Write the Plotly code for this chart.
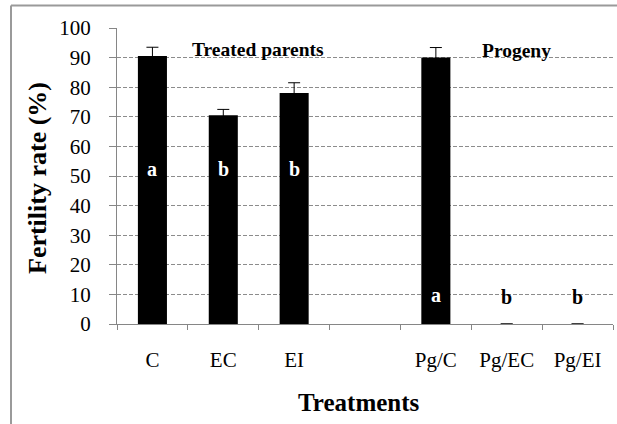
import plotly.graph_objects as go

categories = ["C", "EC", "EI", " ", "Pg/C", "Pg/EC", "Pg/EI"]
fertility = [90.5, 70.5, 78.0, None, 90.0, 0, 0]
errors = [3.0, 2.0, 3.5, 0, 3.4, 0, 0]
letters = ["a", "b", "b", "", "a", "b", "b"]
letter_y = [52.5, 52.5, 52.5, None, 9.7, 9.2, 9.0]
letter_colors = ["white", "white", "white", "white", "white", "black", "black"]
y_ticks = list(range(0, 101, 10))

W, H = 617, 424
ML, MR, MT, MB = 117, 4, 28, 100
FONT = "Liberation Serif"

fig = go.Figure()
fig.add_trace(go.Bar(
    x=categories, y=fertility,
    marker=dict(color="black", line=dict(width=0)),
    error_y=dict(type="data", array=errors, visible=True, color="black",
                 thickness=1, width=6),
    showlegend=False,
))

annotations = []
for c, t, yv, col in zip(categories, letters, letter_y, letter_colors):
    if t:
        annotations.append(dict(x=c, y=yv, xref="x", yref="y", text=t,
                                showarrow=False, yanchor="middle",
                                font=dict(family=FONT, size=20, color=col, weight="bold")))

annotations.append(dict(x=1.49, y=92.6, xref="x", yref="y", text="Treated parents",
                        showarrow=False, yanchor="middle",
                        font=dict(family=FONT, size=19.5, color="black", weight="bold")))
annotations.append(dict(x=5.14, y=92.3, xref="x", yref="y", text="Progeny",
                        showarrow=False, yanchor="middle",
                        font=dict(family=FONT, size=19.5, color="black", weight="bold")))

pw = W - ML - MR
ph = H - MT - MB
annotations.append(dict(x=(359 - ML) / pw, y=(H - MB - 402) / ph, xref="paper", yref="paper",
                        text="Treatments", showarrow=False, xanchor="center", yanchor="middle",
                        font=dict(family=FONT, size=25, color="black", weight="bold")))
annotations.append(dict(x=(37 - ML) / pw, y=(H - MB - 178) / ph, xref="paper", yref="paper",
                        text="Fertility rate (%)", showarrow=False, textangle=-90,
                        xanchor="center", yanchor="middle",
                        font=dict(family=FONT, size=26, color="black", weight="bold")))

# outer frame (left and top edges visible)
bx = (11 - ML) / pw
by = (H - MB - 5.5) / ph
fig.add_shape(type="line", xref="paper", yref="paper", x0=bx, x1=bx, y0=-1, y1=by,
              line=dict(color="#9a9a9a", width=2), layer="below")
fig.add_shape(type="line", xref="paper", yref="paper", x0=bx, x1=(W + 30 - ML) / pw, y0=by, y1=by,
              line=dict(color="#9a9a9a", width=2), layer="below")

fig.update_layout(
    width=W, height=H,
    margin=dict(l=ML, r=MR, t=MT, b=MB, pad=0),
    paper_bgcolor="white", plot_bgcolor="white",
    bargap=0.59,
    annotations=annotations,
    font=dict(family=FONT, size=21, color="black"),
    xaxis=dict(
        type="category", categoryorder="array", categoryarray=categories,
        tickson="boundaries", ticks="outside", ticklen=5, tickcolor="#868686",
        showline=True, linecolor="#868686", linewidth=1,
        showgrid=False, zeroline=False,
        tickfont=dict(family=FONT, size=21, color="black"),
        ticklabelstandoff=17,
    ),
    yaxis=dict(
        range=[0, 100], tickvals=y_ticks, ticks="outside", ticklen=7,
        tickcolor="#868686",
        showline=True, linecolor="#868686", linewidth=1,
        showgrid=True, gridcolor="#8c8c8c", gridwidth=1, griddash="4px,2px",
        zeroline=False,
        tickfont=dict(family=FONT, size=21, color="black"),
        ticklabelstandoff=14,
    ),
)

fig.write_html("out.html", config={"displayModeBar": False},
               post_script="document.body.style.margin='0';document.body.style.overflow='hidden';"
                           "document.documentElement.style.overflow='hidden';")
